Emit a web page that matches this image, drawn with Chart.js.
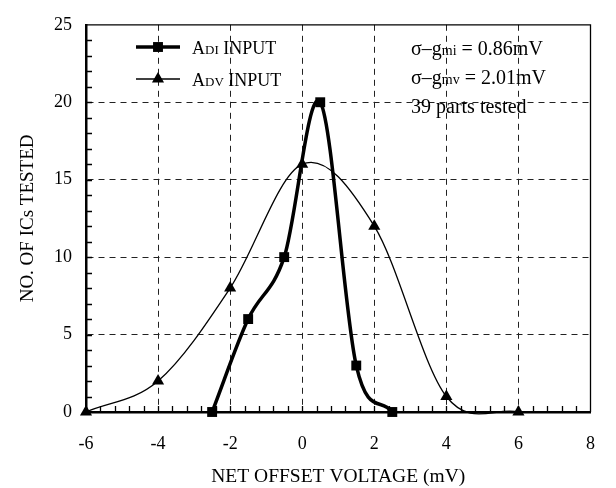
<!DOCTYPE html>
<html><head><meta charset="utf-8">
<script src="https://cdn.jsdelivr.net/npm/chart.js@4.4.1/dist/chart.umd.min.js"></script>
<style>html,body{margin:0;padding:0;background:#fff}#wrap{width:616px;height:488px}</style>
</head><body><div id="wrap"><canvas id="c" width="616" height="488"></canvas></div>
<script>
const adiX = [-2.5, -1.5, -0.5, 0.5, 1.5, 2.5];
const adiY = [0, 6, 10, 20, 3, 0];
const advX = [-6, -4, -2, 0, 2, 4, 6];
const advY = [0, 2, 8, 16, 12, 1, 0];
const xTicks = [-6, -4, -2, 0, 2, 4, 6, 8];
const yTicks = [0, 5, 10, 15, 20, 25];
const seriesNames = [["A", "DI", " INPUT"], ["A", "DV", " INPUT"]];
const notes = [["σ–g", "mi", " = 0.86mV"], ["σ–g", "mv", " = 2.01mV"], ["39 parts tested", "", ""]];
const xTitle = "NET OFFSET VOLTAGE (mV)";
const yTitle = "NO. OF ICs TESTED";

const SERIF = "'Liberation Serif', 'Times New Roman', serif";

function drawRich(ctx, parts, x, y, big, small) {
  ctx.textBaseline = 'alphabetic';
  ctx.textAlign = 'left';
  let cx = x;
  parts.forEach((p, i) => {
    if (!p) return;
    ctx.font = (i === 1 ? small : big) + 'px ' + SERIF;
    ctx.fillText(p, cx, y);
    cx += ctx.measureText(p).width;
  });
}

function drawMarker(ctx, style, x, y, r) {
  ctx.beginPath();
  if (style === 'rect') {
    const s = r * Math.SQRT1_2;
    ctx.rect(x - s, y - s, 2 * s, 2 * s);
  } else {
    const w = r * Math.sqrt(3);
    ctx.moveTo(x, y - r);
    ctx.lineTo(x + w / 2, y + r / 2);
    ctx.lineTo(x - w / 2, y + r / 2);
    ctx.closePath();
  }
  ctx.fill();
}

// Smoothed-curve control points (uniform Catmull-Rom, like the spreadsheet "smoothed line")
function setSmoothControlPoints(chart) {
  chart.data.datasets.forEach((ds, di) => {
    const meta = chart.getDatasetMeta(di);
    const pts = meta.data;
    const n = pts.length;
    if (n < 2) return;
    for (let i = 0; i < n; i++) {
      const p = pts[i];
      let tx, ty;
      if (i === 0) {
        tx = (pts[1].x - p.x) / 3; ty = (pts[1].y - p.y) / 3;
        p.cp1x = p.x; p.cp1y = p.y;
        p.cp2x = p.x + tx; p.cp2y = p.y + ty;
      } else if (i === n - 1) {
        tx = (p.x - pts[i - 1].x) / 3; ty = (p.y - pts[i - 1].y) / 3;
        p.cp1x = p.x - tx; p.cp1y = p.y - ty;
        p.cp2x = p.x; p.cp2y = p.y;
      } else {
        tx = (pts[i + 1].x - pts[i - 1].x) / 6; ty = (pts[i + 1].y - pts[i - 1].y) / 6;
        p.cp1x = p.x - tx; p.cp1y = p.y - ty;
        p.cp2x = p.x + tx; p.cp2y = p.y + ty;
      }
    }
    if (meta.dataset) {
      meta.dataset._pointsUpdated = true;
      meta.dataset._path = undefined;
    }
  });
}

const framePlugin = {
  id: 'frame',
  afterUpdate(chart) { setSmoothControlPoints(chart); },
  beforeDatasetsDraw(chart) {
    setSmoothControlPoints(chart);
    const {ctx, chartArea: a, scales} = chart;
    ctx.save();
    ctx.strokeStyle = '#000';
    ctx.lineWidth = 1.3;
    ctx.beginPath();
    ctx.moveTo(a.left, a.top); ctx.lineTo(a.right, a.top); ctx.lineTo(a.right, a.bottom);
    ctx.stroke();
    ctx.beginPath();
    for (let v = 1; v < 25; v++) {
      const py = Math.round(scales.y.getPixelForValue(v)) + 0.5;
      ctx.moveTo(a.left, py); ctx.lineTo(a.left + 6, py);
    }
    for (let k = 1; k < 35; k++) {
      const v = -6 + k * 0.4;
      const px = Math.round(scales.x.getPixelForValue(v)) + 0.5;
      ctx.moveTo(px, a.bottom); ctx.lineTo(px, a.bottom - 6);
    }
    ctx.stroke();
    ctx.restore();
  },
  afterDraw(chart) {
    const {ctx} = chart;
    ctx.save();
    ctx.fillStyle = '#000';
    ctx.strokeStyle = '#000';
    const ly = [47, 79];
    chart.data.datasets.forEach((ds, i) => {
      ctx.lineWidth = ds.borderWidth;
      ctx.beginPath();
      ctx.moveTo(136, ly[i]); ctx.lineTo(180, ly[i]);
      ctx.stroke();
      drawMarker(ctx, ds.pointStyle, 158, ly[i], ds.pointRadius);
      drawRich(ctx, seriesNames[i], 192, ly[i] + 7, 18, 13);
    });
    const ny = [55, 84, 113];
    notes.forEach((n, i) => drawRich(ctx, n, 411, ny[i], 20, 14));
    ctx.restore();
  }
};

const gridColor = (ctx, min, max) => {
  const v = ctx.tick && ctx.tick.value;
  return (v === min || v === max) ? 'rgba(0,0,0,0)' : '#222';
};

new Chart(document.getElementById('c'), {
  type: 'line',
  data: {
    datasets: [
      {
        label: 'ADI INPUT',
        data: adiX.map((x, i) => ({x, y: adiY[i]})),
        borderColor: '#000', backgroundColor: '#000',
        borderWidth: 3.5, pointStyle: 'rect', pointRadius: 7,
        pointBackgroundColor: '#000', pointBorderWidth: 0,
        tension: 0.3, fill: false, clip: false
      },
      {
        label: 'ADV INPUT',
        data: advX.map((x, i) => ({x, y: advY[i]})),
        borderColor: '#000', backgroundColor: '#000',
        borderWidth: 1.3, pointStyle: 'triangle', pointRadius: 7,
        pointBackgroundColor: '#000', pointBorderWidth: 0,
        tension: 0.3, fill: false, clip: false
      }
    ]
  },
  options: {
    responsive: false,
    devicePixelRatio: 1,
    animation: false,
    layout: {padding: {left: 0, top: 12, right: 20, bottom: 0}},
    plugins: {legend: {display: false}, tooltip: {enabled: false}},
    scales: {
      x: {
        type: 'linear', min: -6, max: 8,
        afterBuildTicks: s => { s.ticks = xTicks.map(v => ({value: v})); },
        afterFit: s => { s.height = 76; },
        ticks: {color: '#000', padding: 21, font: {family: SERIF, size: 18}, maxRotation: 0},
        grid: {drawTicks: false, color: c => gridColor(c, -6, 8), lineWidth: 1},
        border: {color: '#000', width: 2.5, dash: [6, 5]},
        title: {display: true, text: xTitle, color: '#000', font: {family: SERIF, size: 19.5, lineHeight: 1}, padding: {top: 0, bottom: 1}}
      },
      y: {
        type: 'linear', min: 0, max: 25,
        afterBuildTicks: s => { s.ticks = yTicks.map(v => ({value: v})); },
        afterFit: s => { s.width = 86; },
        ticks: {color: '#000', padding: 14, font: {family: SERIF, size: 18}},
        grid: {drawTicks: false, color: c => gridColor(c, 0, 25), lineWidth: 1},
        border: {color: '#000', width: 2.5, dash: [6, 5]},
        title: {display: true, text: yTitle, color: '#000', font: {family: SERIF, size: 19, lineHeight: 1}, padding: {top: 19, bottom: 0}}
      }
    }
  },
  plugins: [framePlugin]
});
</script></body></html>
